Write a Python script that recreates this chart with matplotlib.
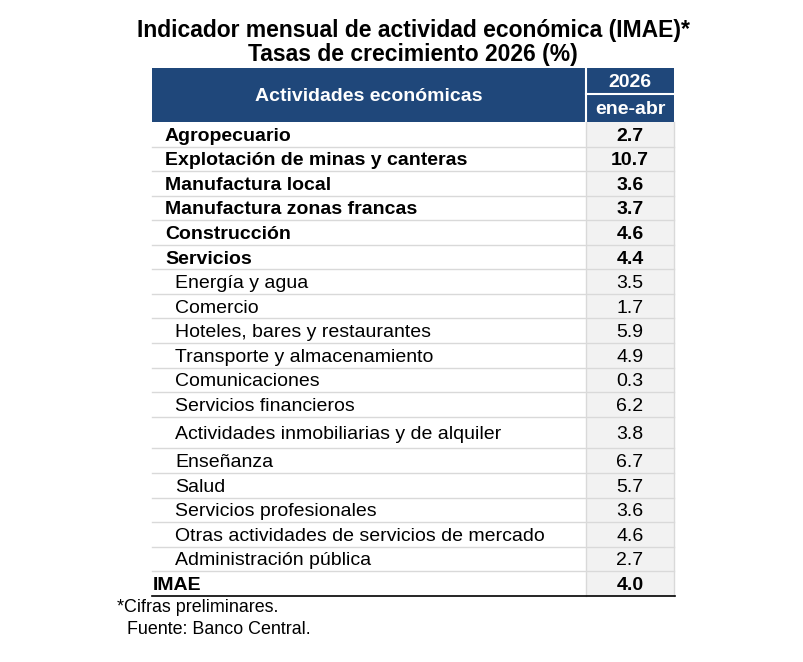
import matplotlib
matplotlib.use("Agg")
import matplotlib.pyplot as plt
from matplotlib.patches import Rectangle

plt.rcParams['font.family'] = ['Liberation Sans', 'DejaVu Sans']

# data
titulo = ["Indicador mensual de actividad económica (IMAE)*",
          "Tasas de crecimiento 2026 (%)"]
encabezado = "Actividades económicas"
anio = "2026"
periodo = "ene-abr"
actividades = ["Agropecuario", "Explotación de minas y canteras", "Manufactura local",
               "Manufactura zonas francas", "Construcción", "Servicios",
               "Energía y agua", "Comercio", "Hoteles, bares y restaurantes",
               "Transporte y almacenamiento", "Comunicaciones", "Servicios financieros",
               "Actividades inmobiliarias y de alquiler", "Enseñanza", "Salud",
               "Servicios profesionales", "Otras actividades de servicios de mercado",
               "Administración pública", "IMAE"]
tasas = [2.7, 10.7, 3.6, 3.7, 4.6, 4.4, 3.5, 1.7, 5.9, 4.9, 0.3, 6.2,
         3.8, 6.7, 5.7, 3.6, 4.6, 2.7, 4.0]
# 0 = total, 1 = sector, 2 = subsector de servicios
nivel = [1, 1, 1, 1, 1, 1, 2, 2, 2, 2, 2, 2, 2, 2, 2, 2, 2, 2, 0]
notas = ["*Cifras preliminares.", "  Fuente: Banco Central."]

azul = "#1f477a"
gris_linea = "#d9d9d9"
gris_fondo = "#f2f2f2"

fig = plt.figure(figsize=(8.04, 6.62), dpi=100)
ax = fig.add_axes([0, 0, 1, 1])
ax.set_xlim(0, 804)
ax.set_ylim(662, 0)
ax.axis("off")

x0, xdiv, x1 = 152, 586, 674
ytop, ymid, yhead = 68, 94, 122
fs = 14

# titulo
ax.text(413, 31, titulo[0], ha="center", va="center", fontsize=16.5, fontweight="bold")
ax.text(413, 54, titulo[1], ha="center", va="center", fontsize=16.5, fontweight="bold")

# encabezado
ax.add_patch(Rectangle((x0, ytop), x1 - x0, yhead - ytop, color=azul, lw=0))
ax.plot([xdiv, xdiv], [ytop, yhead], color="white", lw=1.5)
ax.plot([xdiv, x1], [ymid, ymid], color="white", lw=1.5)
ax.text((x0 + xdiv) / 2, (ytop + yhead) / 2 + 1.5, encabezado, ha="center", va="center",
        color="white", fontsize=fs, fontweight="bold")
ax.text((xdiv + x1) / 2, (ytop + ymid) / 2 + 1.5, anio, ha="center", va="center",
        color="white", fontsize=fs, fontweight="bold")
ax.text((xdiv + x1) / 2, (ymid + yhead) / 2 + 2, periodo, ha="center", va="center",
        color="white", fontsize=fs, fontweight="bold")

# filas
alto = [31.7 if a.startswith("Actividades inmobiliarias") else 24.56 for a in actividades]
ybot = yhead + sum(alto)
ax.add_patch(Rectangle((xdiv, yhead), x1 - xdiv, ybot - yhead, color=gris_fondo, lw=0))
ax.plot([xdiv, xdiv], [yhead, ybot], color=gris_linea, lw=1)
ax.plot([x1, x1], [yhead, ybot], color=gris_linea, lw=1)

sangria = {0: 153, 1: 165, 2: 175}
y = yhead
for i, (act, val, nv) in enumerate(zip(actividades, tasas, nivel)):
    h = alto[i]
    yc = y + h / 2 + 2
    peso = "bold" if nv < 2 else "normal"
    ax.text(sangria[nv], yc, act, ha="left", va="center", fontsize=fs, fontweight=peso)
    ax.text((xdiv + x1) / 2, yc, f"{val:.1f}", ha="center", va="center",
            fontsize=fs, fontweight=peso)
    y += h
    if i < len(actividades) - 1:
        ax.plot([x0, x1], [y, y], color=gris_linea, lw=1)
ax.plot([x0, x1 + 1], [ybot, ybot], color="black", lw=1.2)

# notas
ax.text(117, 608, notas[0], ha="left", va="center", fontsize=12.9)
ax.text(117, 630, notas[1], ha="left", va="center", fontsize=12.9)

fig.savefig("out.png", dpi=100)
